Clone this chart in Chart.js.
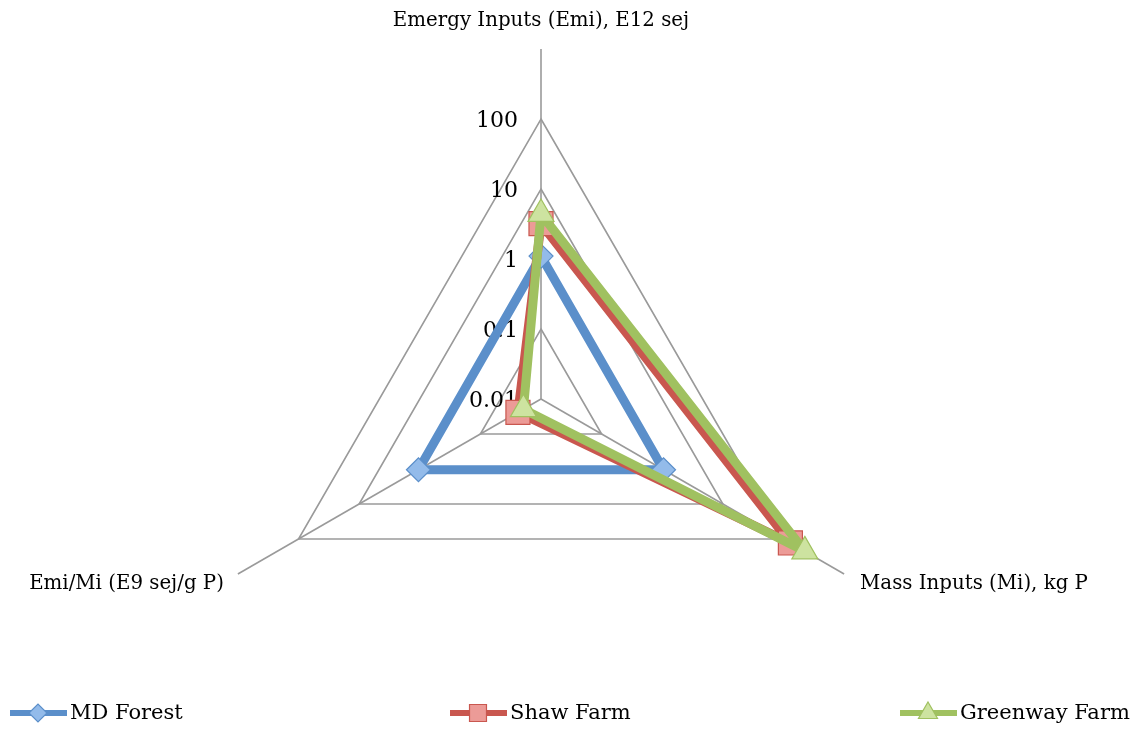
<!DOCTYPE html>
<html>
<head>
<meta charset="utf-8">
<script src="https://cdn.jsdelivr.net/npm/chart.js@4/dist/chart.umd.min.js"></script>
<style>
  html, body { margin: 0; padding: 0; background: #fff; }
  #wrap { width: 1143px; height: 730px; position: relative; }
</style>
</head>
<body>
<div id="wrap"><canvas id="c" width="1143" height="730"></canvas></div>
<script>
// Axis categories (clockwise from the top)
const axisLabels = ['Emergy Inputs (Emi), E12 sej', 'Mass Inputs (Mi), kg P', 'Emi/Mi (E9 sej/g P)'];
// Series values, in the units of each axis
const mdForest = [1.1, 1.05, 1.05];
const shawFarm = [3.2, 130, 0.024];
const greenwayFarm = [4.4, 225, 0.0195];
const seriesNames = ['MD Forest', 'Shaw Farm', 'Greenway Farm'];
// Labelled rings of the log radial axis
const tickValues = [0.01, 0.1, 1, 10, 100];

const FONT = '"DejaVu Serif", "Liberation Serif", serif';
const GRID = '#9a9a9a';

const styles = [
  { line: '#5b8fca', fill: '#93bbea', style: 'rectRot', radius: 12, legendRadius: 9 },
  { line: '#c9574f', fill: '#ec9b97', style: 'rect', radius: 17, legendRadius: 12 },
  { line: '#a0c160', fill: '#cde3a0', style: 'triangle', radius: 15, legendRadius: 11 }
];
const seriesData = [mdForest, shawFarm, greenwayFarm];

const datasets = seriesData.map((vals, i) => ({
  label: seriesNames[i],
  data: vals.map(v => Math.log10(v)),
  borderColor: styles[i].line,
  backgroundColor: 'rgba(0,0,0,0)',
  fill: false,
  borderWidth: 9,
  borderJoinStyle: 'round',
  pointStyle: styles[i].style,
  pointRadius: styles[i].radius,
  pointHoverRadius: styles[i].radius,
  pointBackgroundColor: styles[i].fill,
  pointBorderColor: styles[i].line,
  pointBorderWidth: 1.2,
  order: seriesData.length - i
}));

// Ring labels and axis titles, drawn under the series
const axisText = {
  id: 'axisText',
  beforeDatasetsDraw(chart) {
    const s = chart.scales.r;
    const ctx = chart.ctx;
    ctx.save();
    ctx.fillStyle = '#000';
    ctx.font = '22px ' + FONT;
    ctx.textAlign = 'right';
    ctx.textBaseline = 'middle';
    tickValues.forEach(v => {
      const d = s.getDistanceFromCenterForValue(Math.log10(v));
      ctx.fillText(String(v), s.xCenter - 23, s.yCenter - d + 2);
    });
    ctx.font = '19.8px ' + FONT;
    const outer = s.getDistanceFromCenterForValue(s.max);
    const p0 = s.getPointPosition(0, outer);
    ctx.textAlign = 'center';
    ctx.fillText(axisLabels[0], p0.x, p0.y - 28);
    const p1 = s.getPointPosition(1, outer);
    ctx.textAlign = 'left';
    ctx.fillText(axisLabels[1], p1.x + 16, p1.y + 10);
    const p2 = s.getPointPosition(2, outer);
    ctx.textAlign = 'right';
    ctx.fillText(axisLabels[2], p2.x - 14, p2.y + 10);
    ctx.restore();
  }
};

// Legend row along the bottom edge
const bottomLegend = {
  id: 'bottomLegend',
  afterDraw(chart) {
    const ctx = chart.ctx;
    const y = 713;
    const starts = [10, 450, 900];
    ctx.save();
    ctx.font = '21px ' + FONT;
    ctx.textBaseline = 'middle';
    ctx.textAlign = 'left';
    seriesNames.forEach((name, i) => {
      const x0 = starts[i];
      const st = styles[i];
      ctx.strokeStyle = st.line;
      ctx.lineWidth = 6;
      ctx.beginPath();
      ctx.moveTo(x0, y);
      ctx.lineTo(x0 + 57, y);
      ctx.stroke();
      ctx.fillStyle = st.fill;
      ctx.strokeStyle = st.line;
      ctx.lineWidth = 1.2;
      Chart.helpers.drawPoint(ctx, { pointStyle: st.style, radius: st.legendRadius, borderWidth: 1.2, rotation: 0 }, x0 + 28, y);
      ctx.fillStyle = '#000';
      ctx.fillText(name, x0 + 60, y + 1);
    });
    ctx.restore();
  }
};

new Chart(document.getElementById('c'), {
  type: 'radar',
  data: { labels: axisLabels, datasets },
  options: {
    responsive: false,
    animation: false,
    devicePixelRatio: 1,
    plugins: { legend: { display: false }, tooltip: { enabled: false } },
    elements: { line: { tension: 0 } },
    scales: {
      r: {
        min: -2,
        max: 3,
        ticks: { display: false, stepSize: 1 },
        grid: {
          color: c => (c.tick && c.tick.value === 3) ? 'rgba(0,0,0,0)' : GRID,
          lineWidth: 1.6
        },
        angleLines: { color: GRID, lineWidth: 1.6 },
        pointLabels: { display: false },
        afterFit: s => { s.xCenter = 541; s.yCenter = 399; s.drawingArea = 350; }
      }
    }
  },
  plugins: [axisText, bottomLegend]
});
</script>
</body>
</html>
